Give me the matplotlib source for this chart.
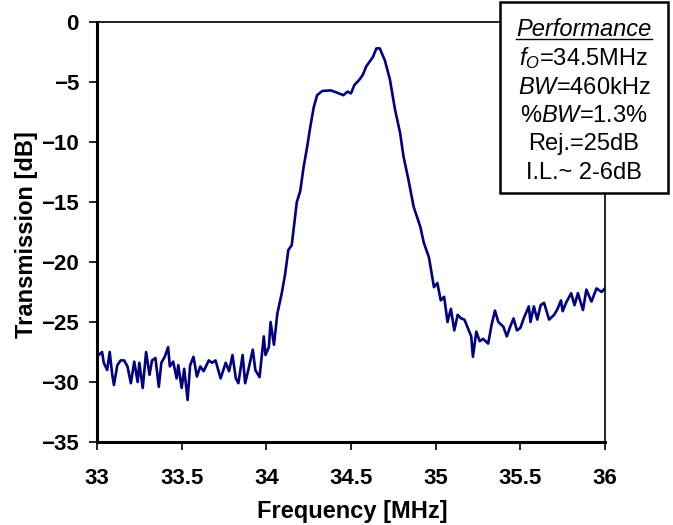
import matplotlib.pyplot as plt
from matplotlib.patches import Rectangle
from matplotlib.lines import Line2D

plt.rcParams["font.family"] = ["Liberation Sans", "DejaVu Sans"]
plt.rcParams["mathtext.fontset"] = "custom"
plt.rcParams["mathtext.rm"] = "Liberation Sans"
plt.rcParams["mathtext.it"] = "Liberation Sans:italic"

freq = [
    33.01, 33.03, 33.04, 33.06, 33.075, 33.09, 33.10, 33.12, 33.14, 33.16,
    33.18, 33.20, 33.22, 33.24, 33.25, 33.27, 33.29, 33.31, 33.325, 33.345,
    33.365, 33.38, 33.40, 33.42, 33.43, 33.45, 33.47, 33.48, 33.50, 33.515,
    33.535, 33.55, 33.57, 33.59, 33.61, 33.63, 33.66, 33.68, 33.70, 33.73,
    33.76, 33.78, 33.80, 33.82, 33.835, 33.86, 33.875, 33.895, 33.92, 33.935,
    33.96, 33.985, 33.995, 34.015, 34.025, 34.045, 34.065, 34.08, 34.091, 34.11,
    34.13, 34.15, 34.18, 34.20, 34.22, 34.24, 34.26, 34.28, 34.30, 34.33,
    34.38, 34.42, 34.455, 34.48, 34.50, 34.52, 34.55, 34.57, 34.59, 34.63,
    34.65, 34.67, 34.70, 34.73, 34.76, 34.79, 34.81, 34.84, 34.87, 34.91,
    34.93, 34.96, 34.99, 35.01, 35.03, 35.05, 35.07, 35.09, 35.11, 35.13,
    35.15, 35.17, 35.19, 35.21, 35.22, 35.24, 35.26, 35.28, 35.31, 35.33,
    35.35, 35.37, 35.40, 35.42, 35.44, 35.46, 35.48, 35.50, 35.52, 35.55,
    35.56, 35.58, 35.60, 35.62, 35.64, 35.67, 35.70, 35.72, 35.74, 35.75,
    35.77, 35.80, 35.82, 35.84, 35.87, 35.89, 35.92, 35.95, 35.98, 36.0,
]
trans = [
    -27.75, -27.5, -28.4, -29.0, -27.5, -29.4, -30.25, -28.6, -28.2, -28.2,
    -28.7, -30.1, -28.3, -30.0, -28.4, -30.5, -27.5, -29.4, -28.2, -28.0,
    -30.4, -28.4, -27.9, -27.1, -28.7, -28.3, -29.7, -28.6, -30.5, -28.9,
    -31.5, -28.6, -27.9, -29.55, -28.7, -29.1, -28.2, -28.4, -28.2, -29.7,
    -28.4, -29.1, -27.75, -29.7, -30.1, -27.75, -30.1, -28.9, -27.3, -29.0,
    -29.6, -26.2, -27.75, -27.1, -25.0, -26.9, -24.3, -23.3, -22.6, -21.1,
    -19.0, -18.6, -15.0, -14.1, -12.1, -10.5, -8.7, -7.1, -6.1, -5.75,
    -5.7, -5.9, -6.1, -5.8, -5.95, -5.25, -4.8, -4.4, -3.7, -2.9,
    -2.2, -2.2, -3.2, -4.8, -7.3, -9.25, -11.2, -13.2, -15.4, -17.1,
    -18.4, -19.6, -22.1, -21.75, -23.2, -22.9, -25.0, -23.9, -25.7, -24.4,
    -24.7, -24.8, -25.5, -26.2, -27.9, -25.8, -26.6, -26.4, -26.8, -25.25,
    -24.05, -25.0, -25.4, -26.2, -25.4, -24.7, -25.7, -25.5, -24.7, -23.7,
    -25.0, -23.7, -24.8, -23.6, -23.4, -24.8, -24.4, -23.9, -23.2, -24.1,
    -23.4, -22.6, -23.6, -22.6, -24.0, -22.3, -23.3, -22.2, -22.5, -22.2,
]

x_ticks = [33, 33.5, 34, 34.5, 35, 35.5, 36]
x_tick_labels = ["33", "33.5", "34", "34.5", "35", "35.5", "36"]
y_ticks = [0, -5, -10, -15, -20, -25, -30, -35]

perf_lines = [
    r"$f_O$=34.5MHz",
    r"$BW$=460kHz",
    r"%$BW$=1.3%",
    "Rej.=25dB",
    "I.L.~ 2-6dB",
]
perf_baselines = [65, 93.5, 122, 150, 178.5]

W, H = 673, 525
fig = plt.figure(figsize=(W / 100, H / 100), dpi=100)
ax = fig.add_axes([97 / W, (H - 442) / H, (605 - 97) / W, (442 - 22) / H])

ax.plot(freq, trans, color="#000080", linewidth=1.9)
ax.set_xlim(33, 36)
ax.set_ylim(-35, 0)
ax.set_xticks(x_ticks)
ax.set_xticklabels(x_tick_labels)
ax.set_yticks(y_ticks)
ax.tick_params(direction="out", length=6, width=1.2, labelsize=16, pad=7)
ax.tick_params(axis="x", pad=13)
for lab in ax.get_xticklabels() + ax.get_yticklabels():
    lab.set_fontweight("bold")
for side in ["left", "bottom"]:
    ax.spines[side].set_linewidth(2.2)
for side in ["top", "right"]:
    ax.spines[side].set_linewidth(1.2)

fig.text(27 / W, 1 - 235 / H, "Transmission [dB]", rotation=90, fontsize=17,
         fontweight="bold", ha="center", va="center")
fig.text(352 / W, 1 - 518 / H, "Frequency [MHz]", fontsize=17,
         fontweight="bold", ha="center", va="baseline")

# performance box
fig.patches.append(Rectangle((500 / W, 1 - 193 / H), 168 / W, 191 / H,
                             transform=fig.transFigure, facecolor="white",
                             edgecolor="black", linewidth=1.8, zorder=5))
cx = 584 / W
t = fig.text(cx, 1 - 36 / H, "Performance", fontsize=17, style="italic",
             ha="center", va="baseline", zorder=6)
fig.canvas.draw()
bb = t.get_window_extent().transformed(fig.transFigure.inverted())
uy = 1 - 39 / H
fig.lines.append(Line2D([bb.x0, bb.x1], [uy, uy],
                        transform=fig.transFigure, color="black",
                        linewidth=1.0, zorder=6))
for s, yb in zip(perf_lines, perf_baselines):
    fig.text(cx, 1 - yb / H, s, fontsize=17,
             ha="center", va="baseline", zorder=6)

fig.savefig("out.png", dpi=100)
